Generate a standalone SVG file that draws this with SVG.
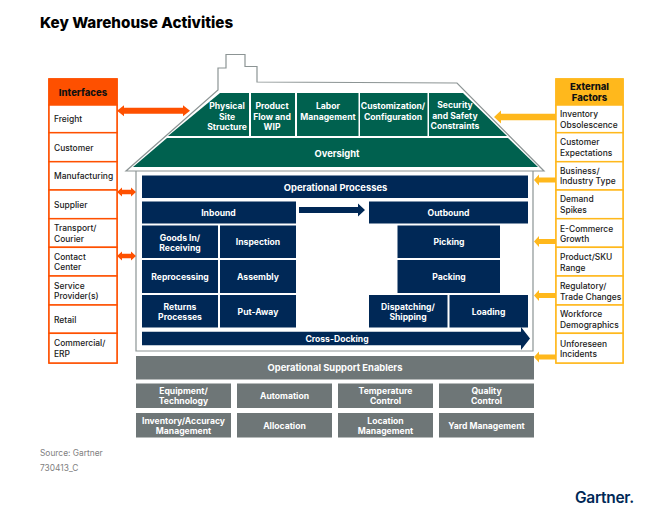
<svg xmlns="http://www.w3.org/2000/svg" width="670" height="510" viewBox="0 0 670 510">
<style>
text{font-family:Inter,"Liberation Sans",sans-serif}
.t{font-size:8.6px;font-weight:700;fill:#fff;text-anchor:middle}
.b{font-size:9.4px}
.l{font-size:8.45px;font-weight:500;fill:#1a1a1a}
.h{font-size:9.5px;font-weight:800;fill:#111;text-anchor:middle}
.g{fill:#00614f}.n{fill:#002856}.y{fill:#6e7677}
.bo{fill:#fff;stroke:#fe5000;stroke-width:1.5}
.by{fill:#fff;stroke:#ffb81c;stroke-width:1.5}
.s{font-size:8.4px;fill:#808080}
.o{fill:#fe5000}.a{fill:#ffb81c}
</style>
<text x="40" y="27.500" font-size="15.200" font-weight="800" fill="#000">Key Warehouse Activities</text>

<g id="house" fill="none" stroke="#8c9494" stroke-width="1.2">
<path d="M218 90V68H226V54.500H245V66.500H257V82L457 83L544 171H126Z" fill="#fff"/>
<path d="M136 171V351H533V171"/>
</g>

<g id="roof" class="g">
<path id="n-site" d="M220 93H249V136H168Z"/>
<rect id="n-flow" x="251" y="93" width="44" height="43"/>
<rect id="n-labor" x="297" y="93" width="61.500" height="43"/>
<rect id="n-custom" x="360" y="93" width="67.500" height="43"/>
<path id="n-safety" d="M429 93H463L507 136H429Z"/>
<path id="n-oversight" d="M167 138H508L538 167H133Z"/>
</g>
<g id="roof-labels">
<text class="t" x="227" y="109">Physical</text><text class="t" x="227" y="119.500">Site</text><text class="t" x="227" y="130">Structure</text>
<text class="t" x="272" y="109">Product</text><text class="t" x="272" y="119.500">Flow and</text><text class="t" x="272" y="130">WIP</text>
<text class="t" x="328" y="109">Labor</text><text class="t" x="328" y="119.500">Management</text>
<text class="t" x="393" y="109">Customization/</text><text class="t" x="393" y="119.500">Configuration</text>
<text class="t" x="455" y="108">Security</text><text class="t" x="455" y="119">and Safety</text><text class="t" x="455" y="129">Constraints</text>
<text class="t b" x="337" y="157">Oversight</text>
</g>

<g id="processes" class="n">
<g id="n-op"><rect x="142" y="175.500" width="386" height="22.500"/><text class="t b" x="335.500" y="190.500">Operational Processes</text></g>
<g id="n-inbound"><rect x="142" y="201.500" width="154" height="22"/><text class="t" x="218.500" y="216">Inbound</text></g>
<g id="n-outbound"><rect x="369" y="201.500" width="159" height="22"/><text class="t" x="448.500" y="216">Outbound</text></g>
<g id="n-goods"><rect x="142" y="225.500" width="76" height="32.500"/><text class="t" x="180" y="240.500">Goods In/</text><text class="t" x="180" y="250.500">Receiving</text></g>
<g id="n-inspection"><rect x="220" y="225.500" width="76" height="32.500"/><text class="t" x="258" y="245">Inspection</text></g>
<g id="n-reprocessing"><rect x="142" y="260" width="76" height="33"/><text class="t" x="180" y="279.500">Reprocessing</text></g>
<g id="n-assembly"><rect x="220" y="260" width="76" height="33"/><text class="t" x="258" y="279.500">Assembly</text></g>
<g id="n-returns"><rect x="142" y="295" width="76" height="32.500"/><text class="t" x="180" y="309.500">Returns</text><text class="t" x="180" y="320">Processes</text></g>
<g id="n-putaway"><rect x="220" y="295" width="76" height="32.500"/><text class="t" x="258" y="315">Put-Away</text></g>
<g id="n-picking"><rect x="397.500" y="225.500" width="102.500" height="32.500"/><text class="t" x="449" y="245">Picking</text></g>
<g id="n-packing"><rect x="397.500" y="260" width="102.500" height="33"/><text class="t" x="449" y="279.500">Packing</text></g>
<g id="n-dispatch"><rect x="369" y="295" width="78.500" height="32.500"/><text class="t" x="408" y="309.500">Dispatching/</text><text class="t" x="408" y="320">Shipping</text></g>
<g id="n-loading"><rect x="449.500" y="295" width="78.500" height="32.500"/><text class="t" x="488.500" y="315">Loading</text></g>
<g id="n-cross"><path d="M142 331.700H521V327L530 338.500L521 350V345.300H142Z"/><text class="t" x="337" y="341.500">Cross-Docking</text></g>
</g>

<g id="enablers" class="y">
<g id="n-ose"><rect x="136" y="356" width="398" height="23.500"/><text class="t b" x="335" y="371">Operational Support Enablers</text></g>
<g id="n-equip"><rect x="136" y="383.500" width="95" height="24.500"/><text class="t" x="183.500" y="394">Equipment/</text><text class="t" x="183.500" y="404">Technology</text></g>
<g id="n-auto"><rect x="237" y="383.500" width="95" height="24.500"/><text class="t" x="284.500" y="399">Automation</text></g>
<g id="n-temp"><rect x="338" y="383.500" width="95" height="24.500"/><text class="t" x="385.500" y="394">Temperature</text><text class="t" x="385.500" y="404">Control</text></g>
<g id="n-quality"><rect x="439" y="383.500" width="95" height="24.500"/><text class="t" x="486.500" y="394">Quality</text><text class="t" x="486.500" y="404">Control</text></g>
<g id="n-inv"><rect x="136" y="413" width="95" height="24.500"/><text class="t" x="183.500" y="424">Inventory/Accuracy</text><text class="t" x="183.500" y="434">Management</text></g>
<g id="n-alloc"><rect x="237" y="413" width="95" height="24.500"/><text class="t" x="284.500" y="428.500">Allocation</text></g>
<g id="n-loc"><rect x="338" y="413" width="95" height="24.500"/><text class="t" x="385.500" y="424">Location</text><text class="t" x="385.500" y="434">Management</text></g>
<g id="n-yard"><rect x="439" y="413" width="95" height="24.500"/><text class="t" x="486.500" y="428.500">Yard Management</text></g>
</g>

<g id="interfaces">
<rect x="49" y="79" width="68" height="284" class="bo"/>
<g id="i-head"><rect x="49" y="79" width="68" height="26" class="o" stroke="#fe5000" stroke-width="1.500"/><text class="h" x="83" y="96">Interfaces</text></g>
<g id="i-freight"><rect x="49" y="105" width="68" height="27.700" class="bo"/><text class="l" x="54" y="122">Freight</text></g>
<g id="i-customer"><rect x="49" y="132.700" width="68" height="29" class="bo"/><text class="l" x="54" y="150.500">Customer</text></g>
<g id="i-manu"><rect x="49" y="161.700" width="68" height="28.300" class="bo"/><text class="l" x="54" y="179">Manufacturing</text></g>
<g id="i-supplier"><rect x="49" y="190" width="68" height="28.700" class="bo"/><text class="l" x="54" y="207.500">Supplier</text></g>
<g id="i-transport"><rect x="49" y="218.700" width="68" height="28.600" class="bo"/><text class="l" x="54" y="231">Transport/</text><text class="l" x="54" y="241.500">Courier</text></g>
<g id="i-contact"><rect x="49" y="247.300" width="68" height="28.700" class="bo"/><text class="l" x="54" y="260">Contact</text><text class="l" x="54" y="270">Center</text></g>
<g id="i-service"><rect x="49" y="276" width="68" height="29" class="bo"/><text class="l" x="54" y="288.500">Service</text><text class="l" x="54" y="299">Provider(s)</text></g>
<g id="i-retail"><rect x="49" y="305" width="68" height="28.300" class="bo"/><text class="l" x="54" y="323">Retail</text></g>
<g id="i-erp"><rect x="49" y="333.300" width="68" height="29.700" class="bo"/><text class="l" x="54" y="346">Commercial/</text><text class="l" x="54" y="357">ERP</text></g>
</g>

<g id="external">
<rect x="556" y="79" width="67" height="284" class="by"/>
<g id="e-head"><rect x="556" y="79" width="67" height="26" class="a" stroke="#ffb81c" stroke-width="1.500"/><text class="h" x="589.500" y="90">External</text><text class="h" x="589.500" y="101">Factors</text></g>
<g id="e-inv"><rect x="556" y="105" width="67" height="27.700" class="by"/><text class="l" x="560" y="117">Inventory</text><text class="l" x="560" y="127.500">Obsolescence</text></g>
<g id="e-cust"><rect x="556" y="132.700" width="67" height="29" class="by"/><text class="l" x="560" y="145">Customer</text><text class="l" x="560" y="156">Expectations</text></g>
<g id="e-bus"><rect x="556" y="161.700" width="67" height="28.300" class="by"/><text class="l" x="560" y="173.500">Business/</text><text class="l" x="560" y="184">Industry Type</text></g>
<g id="e-dem"><rect x="556" y="190" width="67" height="28.700" class="by"/><text class="l" x="560" y="202">Demand</text><text class="l" x="560" y="212.500">Spikes</text></g>
<g id="e-ecom"><rect x="556" y="218.700" width="67" height="28.600" class="by"/><text class="l" x="560" y="232">E-Commerce</text><text class="l" x="560" y="242">Growth</text></g>
<g id="e-prod"><rect x="556" y="247.300" width="67" height="28.700" class="by"/><text class="l" x="560" y="260">Product/SKU</text><text class="l" x="560" y="270.500">Range</text></g>
<g id="e-reg"><rect x="556" y="276" width="67" height="29" class="by"/><text class="l" x="560" y="289">Regulatory/</text><text class="l" x="560" y="299.500">Trade Changes</text></g>
<g id="e-work"><rect x="556" y="305" width="67" height="28.300" class="by"/><text class="l" x="560" y="317">Workforce</text><text class="l" x="560" y="327.500">Demographics</text></g>
<g id="e-unf"><rect x="556" y="333.300" width="67" height="29.700" class="by"/><text class="l" x="560" y="346.500">Unforeseen</text><text class="l" x="560" y="357">Incidents</text></g>
</g>

<g id="connectors">
<path class="n" d="M299 207H358V203.500L365 210L358 216.500V213H299Z"/>
<g class="o">
<path d="M117 110.700L124 105.200V107.700H183V105.200L190 110.700L183 116.200V113.700H124V116.200Z"/>
<path d="M117 192L122 187.500V189.700H131V187.500L136 192L131 196.500V194.300H122V196.500Z"/>
<path d="M117 256L122 251.500V253.700H131V251.500L136 256L131 260.500V258.300H122V260.500Z"/>
</g>
<g class="a">
<path d="M556 113.700V120.300H501V123.500L494 117L501 110.500V113.700Z"/>
<path d="M556 177.500V182.500H539V185.500L534 180L539 174.500V177.500Z"/>
<path d="M556 239V244H539V247L534 241.500L539 236V239Z"/>
<path d="M556 293V298H539V301L534 295.500L539 290V293Z"/>
<path d="M556 354.500V359.500H539V362.500L534 357L539 351.500V354.500Z"/>
</g>
</g>

<text class="s" x="40" y="456">Source: Gartner</text>
<text class="s" x="40" y="471">730413_C</text>
<text x="575" y="502.700" font-size="15.500" font-weight="600" fill="#002856" letter-spacing="-0.300">Gartner.</text>
</svg>
